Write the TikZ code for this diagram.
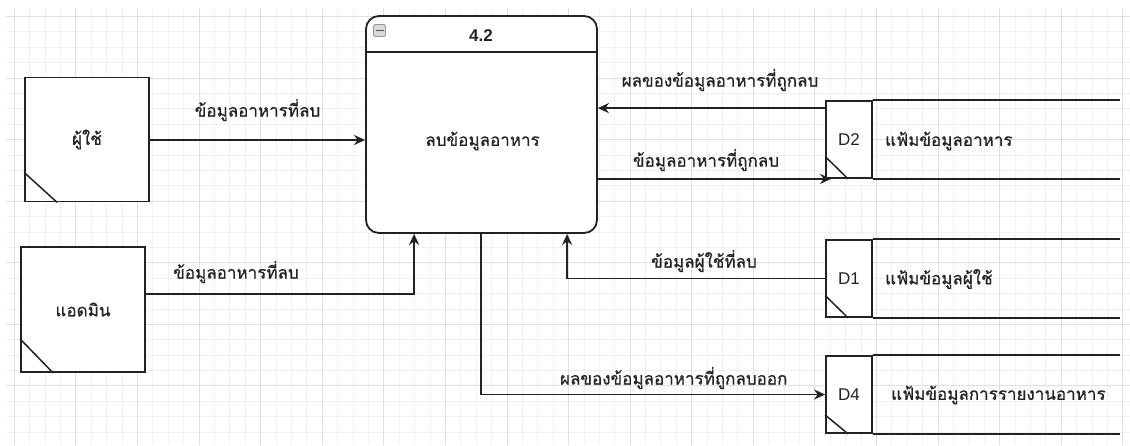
\documentclass[tikz,border=0pt]{standalone}
\usepackage{fontspec}
\setmainfont{Liberation Sans}
\newfontfamily\thaifont[Script=Thai, FakeBold=0.6]{Loma}
\usetikzlibrary{arrows.meta,calc}
\definecolor{gridminor}{HTML}{F1F1F1}
\definecolor{gridmajor}{HTML}{E0E0E0}
\definecolor{ink}{HTML}{222222}
\tikzset{
  thai/.style={font=\thaifont\fontsize{17}{20}\selectfont, text=ink, inner sep=0pt},
  ent/.style={draw=ink, line width=1.8pt, fill=white, minimum width=124pt, minimum height=124pt, inner sep=0pt, thai},
  proc/.style={draw=ink, line width=1.8pt, fill=white, rounded corners=13pt, minimum width=231pt, minimum height=217pt, inner sep=0pt},
  sid/.style={draw=ink, line width=1.8pt, fill=white, minimum width=46pt, minimum height=77pt, inner sep=0pt, font=\fontsize{17}{20}\selectfont, text=ink},
  edge/.style={draw=ink, line width=1.8pt},
  corner/.style={draw=ink, line width=1.5pt},
  flow/.style={draw=ink, line width=1.8pt, -{Stealth[length=11pt,width=10pt]}},
  lbl/.style={thai}
}
\begin{document}
\begin{tikzpicture}[x=1pt,y=-1pt]
\useasboundingbox (0,0) rectangle (1130,445);
\fill[white] (0,0) rectangle (1130,445);
% grid
\begin{scope}
\clip (6,8) rectangle (1130,445);
\foreach \k in {0,...,72} {\draw[gridminor, line width=1pt] ({14.4+\k*15.395},8) -- ({14.4+\k*15.395},445);}
\foreach \k in {0,...,27} {\draw[gridminor, line width=1pt] (6,{16.5+\k*15.395}) -- (1130,{16.5+\k*15.395});}
\foreach \k in {0,...,18} {\draw[gridmajor, line width=1pt] ({14.4+\k*61.58},8) -- ({14.4+\k*61.58},445);}
\foreach \k in {0,...,7} {\draw[gridmajor, line width=1pt] (6,{16.5+\k*61.58}) -- (1130,{16.5+\k*61.58});}
\end{scope}

% external entities
\node[ent] (u) at (87,139.5) {ผู้ใช้};
\draw[corner] ($(u.south west)+(0,-30)$) -- ($(u.south west)+(33,0)$);
\node[ent, minimum height=125pt] (a) at (83,309.5) {แอดมิน};
\draw[corner] ($(a.south west)+(0,-34)$) -- ($(a.south west)+(33,0)$);

% process
\node[proc] (p) at (481.5,124.5) {};
\draw[edge] (p.west |- 0,52) -- (p.east |- 0,52);
\node[font=\bfseries\fontsize{17}{20}\selectfont, text=ink, inner sep=0pt] (pid) at (481,36) {4.2};
\node[draw=gray!80, fill=gray!30, rounded corners=1.5pt, minimum size=12pt, inner sep=0pt, line width=0.8pt] (pm) at (379.5,30.5) {};
\draw[ink!80, line width=1.6pt] ($(pm.center)+(-4,0)$) -- ($(pm.center)+(4,0)$);
\node[thai] (pname) at (482.5,141) {ลบข้อมูลอาหาร};

% data stores
\node[sid] (d2id) at (849,139.5) {D2};
\draw[edge] (d2id.north east) -- ++(247,0);
\draw[edge] (d2id.south east) -- ++(247,0);
\draw[corner] ($(d2id.south west)+(0,-22.5)$) -- ($(d2id.south west)+(23,0)$);
\node[thai, anchor=west] (d2l) at (885,141) {แฟ้มข้อมูลอาหาร};

\node[sid] (d1id) at (849,278.5) {D1};
\draw[edge] (d1id.north east) -- ++(247,0);
\draw[edge] (d1id.south east) -- ++(247,0);
\draw[corner] ($(d1id.south west)+(0,-22.5)$) -- ($(d1id.south west)+(23,0)$);
\node[thai, anchor=west] (d1l) at (885,279) {แฟ้มข้อมูลผู้ใช้};

\node[sid] (d4id) at (849,394.5) {D4};
\draw[edge] (d4id.north east) -- ++(247,0);
\draw[edge] (d4id.south east) -- ++(247,0);
\draw[corner] ($(d4id.south west)+(0,-19)$) -- ($(d4id.south west)+(23,0)$);
\node[thai, anchor=west] (d4l) at (891,395) {แฟ้มข้อมูลการรายงานอาหาร};

% flows
\draw[flow] (u.east |- 0,140) -- (p.west |- 0,140);
\draw[flow] ($(a.east)+(0,-15.5)$) -| ($(p.south west)+(49,0)$);
\draw[flow] ($(d2id.north west)+(0,8)$) -- ($(p.east |- d2id.north west)+(0,8)$);
\draw[flow] ($(p.south east)+(0,-55)$) -- ($(d2id.south west)+(6,0)$);
\draw[flow] (d1id.west) -| ($(p.south west)+(202,0)$);
\draw[flow] ($(p.south west)+(115.5,0)$) |- (d4id.west);

% labels
\node[lbl] (l1) at (257.5,110) {ข้อมูลอาหารที่ลบ};
\node[lbl] (l2) at (236,272) {ข้อมูลอาหารที่ลบ};
\node[lbl] (l3) at (720,80) {ผลของข้อมูลอาหารที่ถูกลบ};
\node[lbl] (l4) at (706,160) {ข้อมูลอาหารที่ถูกลบ};
\node[lbl] (l5) at (704,261) {ข้อมูลผู้ใช้ที่ลบ};
\node[lbl] (l6) at (673.7,378) {ผลของข้อมูลอาหารที่ถูกลบออก};
\end{tikzpicture}
\end{document}
